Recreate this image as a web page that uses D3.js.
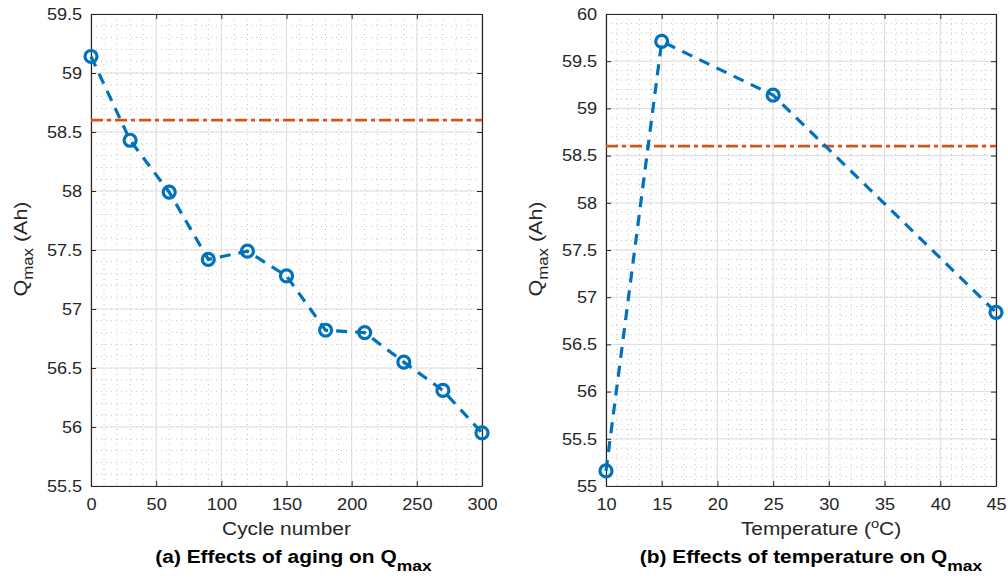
<!DOCTYPE html>
<html>
<head>
<meta charset="utf-8">
<script src="https://cdn.jsdelivr.net/npm/d3@7"></script>
<style>
  body { margin: 0; background: #fff; }
  text { font-family: Arial, "Liberation Sans", sans-serif; }
</style>
</head>
<body>
<svg id="chart" width="1008" height="578"></svg>
<script>
// data
var cycles = [0, 30, 60, 90, 120, 150, 180, 210, 240, 270, 300];
var qAging = [59.14, 58.43, 57.99, 57.42, 57.49, 57.28, 56.82, 56.80, 56.55, 56.31, 55.95];

var temps = [10, 15, 25, 45];
var qTemp = [55.16, 59.71, 59.14, 56.84];

var refQ = 58.6;

var agingXTicks = [0, 50, 100, 150, 200, 250, 300];
var agingYTicks = [55.5, 56, 56.5, 57, 57.5, 58, 58.5, 59, 59.5];
var tempXTicks = [10, 15, 20, 25, 30, 35, 40, 45];
var tempYTicks = [55, 55.5, 56, 56.5, 57, 57.5, 58, 58.5, 59, 59.5, 60];

var blue = "#0072BD",
    red = "#D95319",
    axisCol = "#262626",
    sx = 1.13,     // text in the picture runs a bit wide
    tickSx = 1.1;

var svg = d3.select("#chart");

function panel(opt) {
    var x = d3.scaleLinear().domain(opt.xDomain).range([opt.left, opt.right]);
    var y = d3.scaleLinear().domain(opt.yDomain).range([opt.bottom, opt.top]);
    var g = svg.append("g");

    // minor grid
    g.selectAll(".mx").data(d3.range(opt.xDomain[0], opt.xDomain[1] + 1e-9, opt.xMinor))
        .enter().append("line")
        .attr("x1", d => x(d)).attr("x2", d => x(d))
        .attr("y1", opt.top).attr("y2", opt.bottom)
        .attr("stroke", "#c4c4c4").attr("stroke-width", 1)
        .attr("stroke-dasharray", "1,4");
    g.selectAll(".my").data(d3.range(opt.yDomain[0], opt.yDomain[1] + 1e-9, opt.yMinor))
        .enter().append("line")
        .attr("y1", d => y(d)).attr("y2", d => y(d))
        .attr("x1", opt.left).attr("x2", opt.right)
        .attr("stroke", "#c4c4c4").attr("stroke-width", 1)
        .attr("stroke-dasharray", "1,4");

    // major grid
    g.selectAll(".gx").data(opt.xTicks).enter().append("line")
        .attr("x1", d => x(d)).attr("x2", d => x(d))
        .attr("y1", opt.top).attr("y2", opt.bottom)
        .attr("stroke", "#dedede").attr("stroke-width", 1);
    g.selectAll(".gy").data(opt.yTicks).enter().append("line")
        .attr("y1", d => y(d)).attr("y2", d => y(d))
        .attr("x1", opt.left).attr("x2", opt.right)
        .attr("stroke", "#dedede").attr("stroke-width", 1);

    // axes (box)
    var xb = g.append("g").attr("transform", "translate(0," + opt.bottom + ")")
        .call(d3.axisBottom(x).tickValues(opt.xTicks).tickSizeInner(-5).tickSizeOuter(0).tickPadding(12).tickFormat(d3.format("")));
    var xt = g.append("g").attr("transform", "translate(0," + opt.top + ")")
        .call(d3.axisTop(x).tickValues(opt.xTicks).tickSizeInner(-5).tickSizeOuter(0).tickFormat(""));
    var yl = g.append("g").attr("transform", "translate(" + opt.left + ",0)")
        .call(d3.axisLeft(y).tickValues(opt.yTicks).tickSizeInner(-5).tickSizeOuter(0).tickPadding(8).tickFormat(d3.format("")));
    var yr = g.append("g").attr("transform", "translate(" + opt.right + ",0)")
        .call(d3.axisRight(y).tickValues(opt.yTicks).tickSizeInner(-5).tickSizeOuter(0).tickFormat(""));
    [xb, xt, yl, yr].forEach(function (a) {
        a.select(".domain").attr("stroke", axisCol).attr("stroke-width", 1.2);
        a.selectAll(".tick line").attr("stroke", axisCol);
        a.selectAll("text").attr("fill", axisCol).style("font-size", "16.5px")
            .attr("transform", "scale(" + tickSx + ",1)")
            .style("font-family", "Arial, 'Liberation Sans', sans-serif");
    });

    // reference line
    g.append("line")
        .attr("x1", opt.left).attr("x2", opt.right)
        .attr("y1", y(refQ)).attr("y2", y(refQ))
        .attr("stroke", red).attr("stroke-width", 2.8)
        .attr("stroke-dasharray", "12,4,4,4");

    // data line
    var line = d3.line().x(d => x(d[0])).y(d => y(d[1]));
    var pts = opt.xs.map((v, i) => [v, opt.ys[i]]);
    g.append("path").datum(pts)
        .attr("d", line).attr("fill", "none")
        .attr("stroke", blue).attr("stroke-width", 3.2)
        .attr("stroke-dasharray", "11,8");
    g.selectAll(".pt").data(pts).enter().append("circle")
        .attr("cx", d => x(d[0])).attr("cy", d => y(d[1]))
        .attr("r", 6).attr("fill", "none")
        .attr("stroke", blue).attr("stroke-width", 3.2);

    var cx = (opt.left + opt.right) / 2;

    // x label
    var xl = g.append("text")
        .attr("transform", "translate(" + (cx + opt.xLabelShift) + ",535) scale(" + sx + ",1)")
        .attr("text-anchor", "middle").attr("fill", axisCol).style("font-size", "18.5px");
    opt.xLabel(xl);

    // y label
    var ylab = g.append("text")
        .attr("transform", "translate(" + (opt.left - 64) + "," + ((opt.top + opt.bottom) / 2 - 1) + ") rotate(-90) scale(1.16,1)")
        .attr("text-anchor", "middle").attr("fill", axisCol).style("font-size", "18.5px");
    ylab.append("tspan").text("Q");
    ylab.append("tspan").attr("dy", 6).style("font-size", "14.5px").text("max");
    ylab.append("tspan").attr("dy", -6).text(" (Ah)");

    // title
    var t = g.append("text")
        .attr("transform", "translate(" + (cx + opt.titleShift) + ",563) scale(" + sx + ",1)")
        .attr("text-anchor", "middle").attr("fill", "#000")
        .style("font-size", "18.5px").style("font-weight", "bold");
    t.append("tspan").text(opt.title + " Q");
    t.append("tspan").attr("dy", 8).style("font-size", "15.5px").text("max");
}

panel({
    left: 91, right: 482, top: 14, bottom: 486,
    xDomain: [0, 300], yDomain: [55.5, 59.5],
    xTicks: agingXTicks, yTicks: agingYTicks,
    xMinor: 10, yMinor: 0.1,
    xs: cycles, ys: qAging,
    xLabel: function (s) { s.text("Cycle number"); },
    xLabelShift: 0,
    title: "(a) Effects of aging on",
    titleShift: 7
});

panel({
    left: 606, right: 996, top: 14, bottom: 486,
    xDomain: [10, 45], yDomain: [55, 60],
    xTicks: tempXTicks, yTicks: tempYTicks,
    xMinor: 1, yMinor: 0.1,
    xs: temps, ys: qTemp,
    xLabel: function (s) {
        s.append("tspan").text("Temperature (");
        s.append("tspan").attr("dy", -7).style("font-size", "13px").text("o");
        s.append("tspan").attr("dy", 7).text("C)");
    },
    xLabelShift: 20,
    title: "(b) Effects of temperature on",
    titleShift: 10
});
</script>
</body>
</html>
